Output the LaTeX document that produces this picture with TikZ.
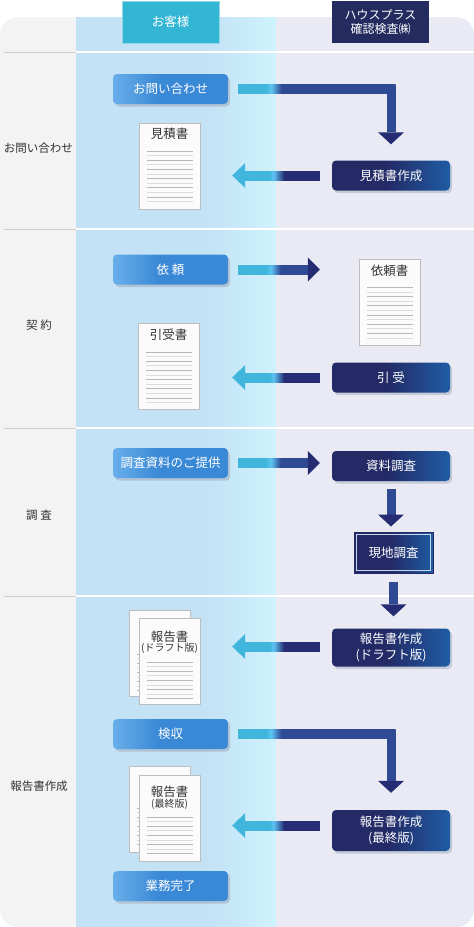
\documentclass[tikz,border=0pt]{standalone}
\usepackage{fontspec}
\setmainfont{Noto Sans CJK JP}
\usetikzlibrary{calc,positioning,shadows}
\definecolor{sidegray}{HTML}{F3F3F3}
\definecolor{custA}{HTML}{C3E2F6}
\definecolor{custB}{HTML}{CFF3FD}
\definecolor{hplav}{HTML}{EAEAF4}
\definecolor{custhead}{HTML}{33B5D4}
\definecolor{hphead}{HTML}{232B5F}
\definecolor{btnL}{HTML}{68AEEA}
\definecolor{btnR}{HTML}{3A89D6}
\definecolor{boxL}{HTML}{232A66}
\definecolor{boxR}{HTML}{1F5CA4}
\definecolor{acyan}{HTML}{40B6DC}
\definecolor{alight}{HTML}{5EC3F2}
\definecolor{anavy}{HTML}{2E4A94}
\definecolor{anavydk}{HTML}{262D74}
\definecolor{headdk}{HTML}{252C72}
\definecolor{docline}{HTML}{BDBDBD}
\definecolor{docfill}{HTML}{FBFBFB}
\definecolor{rulea}{HTML}{B8B8B8}
\definecolor{ruleb}{HTML}{DCDCDC}
\definecolor{divgray}{HTML}{CCCCCC}
\definecolor{labeltext}{HTML}{333333}
\definecolor{shadowc}{HTML}{A9B6C6}
% shadings: the path box spans 25bp--75bp
\pgfdeclarehorizontalshading{colshade}{100bp}{color(0bp)=(custA); color(25bp)=(custA); color(58bp)=(custA); color(75bp)=(custB); color(100bp)=(custB)}
\pgfdeclarehorizontalshading{btnshade}{100bp}{color(0bp)=(btnL); color(25bp)=(btnL); color(45bp)=(btnR); color(100bp)=(btnR)}
\pgfdeclarehorizontalshading{boxshade}{100bp}{color(0bp)=(boxL); color(25bp)=(boxL); color(48bp)=(boxL); color(75bp)=(boxR); color(100bp)=(boxR)}
\pgfdeclarehorizontalshading{rshade}{100bp}{color(0bp)=(acyan); color(45bp)=(acyan); color(48.5bp)=(alight); color(55.5bp)=(anavy); color(100bp)=(anavy)}
\pgfdeclarehorizontalshading{lshade}{100bp}{color(0bp)=(acyan); color(41.5bp)=(acyan); color(44bp)=(alight); color(51bp)=(anavydk); color(100bp)=(anavydk)}
\pgfdeclarehorizontalshading{Lshade}{100bp}{color(0bp)=(acyan); color(33.9bp)=(acyan); color(35.5bp)=(alight); color(38.7bp)=(anavy); color(100bp)=(anavy)}

\begin{document}
\begin{tikzpicture}[
  x=1pt, y=-1pt,
  phase/.style={text=labeltext, font=\fontsize{11.5}{13}\selectfont, inner sep=0pt},
  custhd/.style={fill=custhead, draw=custhead!55!white, minimum width=97pt, minimum height=42pt, text=white, font=\fontsize{12.5}{14}\selectfont},
  hphd/.style={fill=hphead, minimum width=97pt, minimum height=42pt, text=white, align=center, inner sep=0pt, font=\fontsize{12}{14}\selectfont},
  btn/.style={shade, shading=btnshade, rounded corners=4pt, minimum width=115pt, minimum height=30pt, inner sep=1pt, text=white, font=\fontsize{12.5}{15}\selectfont, drop shadow={shadow xshift=2pt, shadow yshift=-2.5pt, fill=shadowc, opacity=0.7}},
  hpbox/.style={shade, shading=boxshade, rounded corners=4pt, minimum width=118pt, minimum height=30pt, inner sep=1pt, text=white, align=center, font=\fontsize{12.5}{16}\selectfont, drop shadow={shadow xshift=2pt, shadow yshift=-2.5pt, fill=shadowc, opacity=0.6}},
  sitebox/.style={shade, shading=boxshade, draw=boxL, line width=1pt, minimum width=79pt, minimum height=41pt, text=white, font=\fontsize{12.5}{15}\selectfont,
    path picture={\draw[white!75!boxR, line width=0.8pt] ($(path picture bounding box.south west)+(2.5pt,2.5pt)$) rectangle ($(path picture bounding box.north east)+(-2.5pt,-2.5pt)$);}},
  docbox/.style n args={2}{draw=docline, fill=docfill, minimum width=61pt, minimum height=86pt, inner sep=0pt,
    path picture={\foreach \i in {1,...,#2} {
      \pgfmathsetmacro{\ly}{#1+(\i-1)*4.6}
      \ifodd\i \def\lc{rulea}\else \def\lc{ruleb}\fi
      \draw[\lc, line width=1pt] ($(path picture bounding box.north west)+(8,\ly)$) -- ++(46,0);}}},
  doctitle/.style={text=labeltext, font=\fontsize{12.5}{14}\selectfont, inner sep=0pt},
  docsub/.style={text=labeltext, font=\fontsize{10}{12}\selectfont, inner sep=0pt}
]
\useasboundingbox (0,0) rectangle (474,927);
% panel and columns
\begin{scope}
  \clip[rounded corners=18pt] (0,17) rectangle (474,927);
  \fill[sidegray] (0,17) rectangle (76,927);
  \shade[shading=colshade] (76,17) rectangle (276,927);
  \fill[hplav] (276,17) rectangle (474,927);
\end{scope}
\foreach \y in {52,229,428,596} {
  \draw[divgray] (4,\y) -- (76,\y);
  \draw[white, line width=1.2pt] (76,\y) -- (474,\y);
}
% headers
\node[custhd] (cust) at (170.5,22) {お客様};
\node[hphd] (hp) at (380.5,22) {ハウスプラス\\確認検査㈱};
% phases
\node[phase] (p1) at (38.5,148) {お問い合わせ};
\node[phase] (p2) at (39,325) {契 約};
\node[phase] (p3) at (39,515) {調 査};
\node[phase] (p4) at (39,786) {報告書作成};
% customer side
\node[btn] (ask) at (170.5,89) {お問い合わせ};
\node[btn] (req) at (170.5,269.5) {依 頼};
\node[btn] (give) at (170.5,463) {調査資料のご提供};
\node[btn] (check) at (170.5,734) {検収};
\node[btn] (done) at (170.5,886) {業務完了};
% company side
\node[hpbox] (est) at (391,175.5) {見積書作成};
\node[hpbox] (acc) at (391,377.5) {引 受};
\node[hpbox] (mat) at (391,466) {資料調査};
\node[sitebox] (site) at (393.5,552.5) {現地調査};
\node[hpbox, minimum height=38pt] (draft) at (391,647.5) {報告書作成\\(ドラフト版)};
\node[hpbox, minimum height=41pt] (final) at (391,830.5) {報告書作成\\(最終版)};
% documents
\node[docbox={28}{12}] (estdoc) at (169.5,166) {};
\node[doctitle] (esttitle) at ($(estdoc.north)+(0,11)$) {見積書};
\node[docbox={28}{12}] (reqdoc) at (389.5,302.5) {};
\node[doctitle] (reqtitle) at ($(reqdoc.north)+(0,11)$) {依頼書};
\node[docbox={29}{12}] (accdoc) at (168.5,366) {};
\node[doctitle] (acctitle) at ($(accdoc.north)+(0,12)$) {引受書};
\node[docbox={44}{9}] (draftback) at (159.5,653) {};
\node[docbox={44}{9}] (draftdoc) at (169.5,661) {};
\node[doctitle] (drafttitle) at ($(draftdoc.north)+(0,19)$) {報告書};
\node[docsub] (draftsub) at ($(draftdoc.north)+(0,30)$) {(ドラフト版)};
\node[docbox={42}{9}] (finback) at (159.5,809) {};
\node[docbox={42}{9}] (findoc) at (169.5,818) {};
\node[doctitle] (fintitle) at ($(findoc.north)+(0,17)$) {報告書};
\node[docsub] (finsub) at ($(findoc.north)+(0,29)$) {(最終版)};
% お問い合わせ -> 見積書作成
\shade[shading=Lshade] ($(ask.east)+(10,-4.5)$) rectangle ($(ask.east -| est.north)+(4.5,4.5)$);
\fill[anavy] ($(ask.east -| est.north)+(-4.5,-4.5)$) rectangle ($(est.north)+(4.5,-28)$);
\fill[headdk] ($(est.north)+(-13,-28)$) -- ($(est.north)+(0,-16)$) -- ($(est.north)+(13,-28)$) -- cycle;
% 見積書作成 -> 見積書
\shade[shading=lshade] ($(est.west)+(-12,-4.5)$) rectangle ($(est.west -| estdoc.east)+(45,4.5)$);
\fill[acyan] ($(est.west -| estdoc.east)+(45,-12.5)$) -- ($(est.west -| estdoc.east)+(32,0)$) -- ($(est.west -| estdoc.east)+(45,12.5)$) -- cycle;
% 依頼 -> 依頼書
\shade[shading=rshade] ($(req.east)+(10,-4.5)$) rectangle ($(req.east -| reqdoc.west)+(-51,4.5)$);
\fill[headdk] ($(req.east -| reqdoc.west)+(-51,-12)$) -- ($(req.east -| reqdoc.west)+(-39,0)$) -- ($(req.east -| reqdoc.west)+(-51,12)$) -- cycle;
% 引受 -> 引受書
\shade[shading=lshade] ($(acc.west)+(-12,-4.5)$) rectangle ($(acc.west -| accdoc.east)+(46,4.5)$);
\fill[acyan] ($(acc.west -| accdoc.east)+(46,-12.5)$) -- ($(acc.west -| accdoc.east)+(33,0)$) -- ($(acc.west -| accdoc.east)+(46,12.5)$) -- cycle;
% 調査資料のご提供 -> 資料調査
\shade[shading=rshade] ($(give.east)+(10,-4.5)$) rectangle ($(give.east -| mat.west)+(-24,4.5)$);
\fill[headdk] ($(give.east -| mat.west)+(-24,-12)$) -- ($(give.east -| mat.west)+(-12,0)$) -- ($(give.east -| mat.west)+(-24,12)$) -- cycle;
% 資料調査 -> 現地調査
\fill[anavy] ($(mat.south)+(-4.5,8)$) rectangle ($(mat.south |- site.north)+(4.5,-17)$);
\fill[headdk] ($(mat.south |- site.north)+(-13,-17)$) -- ($(mat.south |- site.north)+(0,-5)$) -- ($(mat.south |- site.north)+(13,-17)$) -- cycle;
% 現地調査 -> 報告書作成 (ドラフト版)
\fill[anavy] ($(site.south)+(-4.5,8)$) rectangle ($(site.south |- draft.north)+(4.5,-24)$);
\fill[headdk] ($(site.south |- draft.north)+(-13,-24)$) -- ($(site.south |- draft.north)+(0,-12)$) -- ($(site.south |- draft.north)+(13,-24)$) -- cycle;
% 報告書作成 (ドラフト版) -> 報告書
\shade[shading=lshade] ($(draft.west)+(-12,-5.5)$) rectangle ($(draft.west -| draftdoc.east)+(45,3.5)$);
\fill[acyan] ($(draft.west -| draftdoc.east)+(45,-13.5)$) -- ($(draft.west -| draftdoc.east)+(32,-1)$) -- ($(draft.west -| draftdoc.east)+(45,11.5)$) -- cycle;
% 検収 -> 報告書作成 (最終版)
\shade[shading=Lshade] ($(check.east)+(10,-4.5)$) rectangle ($(check.east -| final.north)+(4.5,4.5)$);
\fill[anavy] ($(check.east -| final.north)+(-4.5,-4.5)$) rectangle ($(final.north)+(4.5,-29)$);
\fill[headdk] ($(final.north)+(-13,-29)$) -- ($(final.north)+(0,-17)$) -- ($(final.north)+(13,-29)$) -- cycle;
% 報告書作成 (最終版) -> 報告書
\shade[shading=lshade] ($(final.west)+(-12,-9.5)$) rectangle ($(final.west -| findoc.east)+(45,-0.5)$);
\fill[acyan] ($(final.west -| findoc.east)+(45,-17.5)$) -- ($(final.west -| findoc.east)+(32,-5)$) -- ($(final.west -| findoc.east)+(45,7.5)$) -- cycle;
\end{tikzpicture}
\end{document}
